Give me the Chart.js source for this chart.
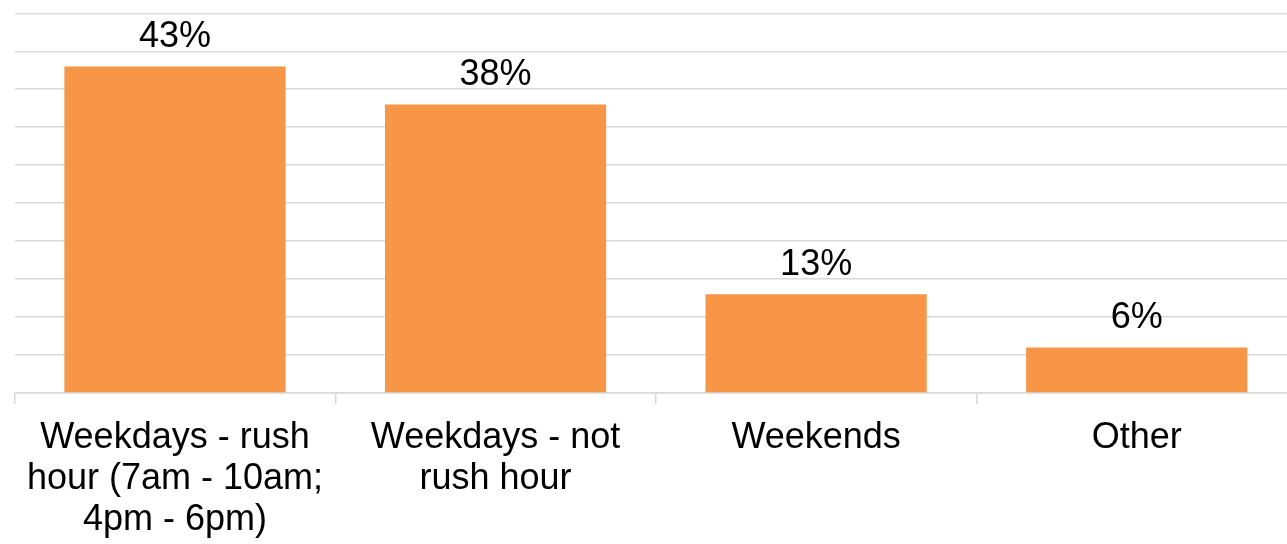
<!DOCTYPE html>
<html>
<head>
<meta charset="utf-8">
<script src="https://cdn.jsdelivr.net/npm/chart.js@4/dist/chart.umd.min.js"></script>
<style>
  html, body { margin: 0; padding: 0; background: #fff; overflow: hidden; }
  #wrap { position: relative; width: 1297px; height: 544px; }
</style>
</head>
<body>
<div id="wrap"><canvas id="chart"></canvas></div>
<script>
// Share of trips by time of travel (%)
const categories = [
  ["Weekdays - rush", "hour (7am - 10am;", "4pm - 6pm)"],
  ["Weekdays - not", "rush hour"],
  "Weekends",
  "Other"
];
const shares = [43, 38, 13, 6];
const yTicks = [0, 5, 10, 15, 20, 25, 30, 35, 40, 45, 50];

const FONT = "'Liberation Sans', Arial, Helvetica, sans-serif";
const GRID = "#d9d9d9";

// Writes each bar's value as a percentage just above the bar
const valueLabels = {
  id: "valueLabels",
  afterDatasetsDraw(chart) {
    const ctx = chart.ctx;
    const meta = chart.getDatasetMeta(0);
    ctx.save();
    ctx.font = "36px " + FONT;
    ctx.fillStyle = "#000";
    ctx.textAlign = "center";
    ctx.textBaseline = "alphabetic";
    meta.data.forEach((bar, i) => {
      ctx.fillText(shares[i] + "%", bar.x, bar.y - 19);
    });
    ctx.restore();
  }
};

new Chart(document.getElementById("chart"), {
  type: "bar",
  data: {
    labels: categories,
    datasets: [{
      data: shares,
      backgroundColor: "#F79646",
      borderWidth: 0,
      barPercentage: 0.69,
      categoryPercentage: 1.0
    }]
  },
  options: {
    responsive: true,
    maintainAspectRatio: false,
    animation: false,
    layout: { padding: { left: 14.7, top: 13.3, right: 0, bottom: 0 } },
    plugins: { legend: { display: false }, tooltip: { enabled: false } },
    scales: {
      x: {
        grid: {
          display: true,
          offset: true,
          drawOnChartArea: false,
          drawTicks: true,
          tickLength: 11,
          color: GRID,
          lineWidth: 1.5
        },
        border: { display: true, color: GRID, width: 1.5 },
        ticks: {
          color: "#000",
          font: { family: FONT, size: 36, lineHeight: 1.15 },
          padding: 13,
          maxRotation: 0,
          autoSkip: false
        },
        afterFit(scale) { scale.height = 151; }
      },
      y: {
        min: 0,
        max: 50,
        afterBuildTicks(scale) { scale.ticks = yTicks.map(v => ({ value: v })); },
        grid: { color: GRID, lineWidth: 1.5, drawTicks: false },
        border: { display: false },
        ticks: { display: false },
        afterFit(scale) { scale.width = 0; }
      }
    }
  },
  plugins: [valueLabels]
});
</script>
</body>
</html>
